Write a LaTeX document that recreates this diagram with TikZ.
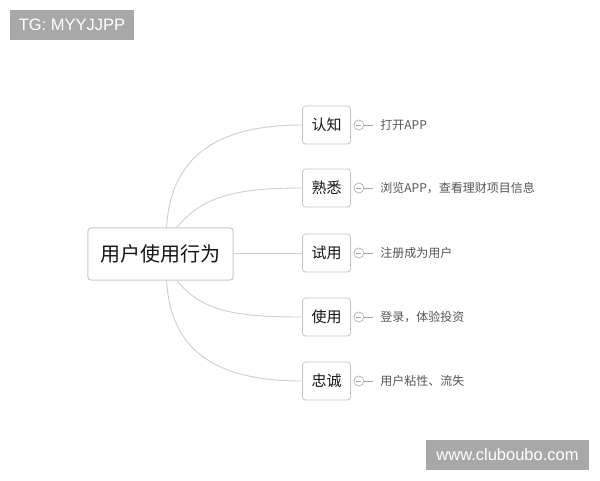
\documentclass[tikz,border=0pt]{standalone}
\usepackage{fontspec}
\setmainfont{Liberation Sans}
\newfontfamily\cjk{Noto Sans CJK SC}
\usetikzlibrary{calc}
\definecolor{wmgray}{HTML}{A8A8A8}
\definecolor{linegray}{HTML}{CFCFCF}
\definecolor{boxgray}{HTML}{C4C4C4}
\definecolor{leafgray}{HTML}{555555}
\definecolor{txtdark}{HTML}{151515}
\tikzset{
  wmark/.style={fill=wmgray, text=white, inner sep=0pt, font=\fontsize{16.5}{16.5}\selectfont},
  rootbox/.style={draw=boxgray, line width=0.8pt, rounded corners=3pt, fill=white, minimum width=145pt, minimum height=52pt, inner sep=0pt, text=txtdark, font=\cjk\fontsize{20}{20}\selectfont},
  stagebox/.style={draw=boxgray, line width=0.8pt, rounded corners=3pt, fill=white, minimum width=48pt, minimum height=38pt, inner sep=0pt, text=txtdark, font=\cjk\fontsize{15}{15}\selectfont},
  fold/.style={circle, draw=linegray!80!black, line width=0.6pt, minimum size=10pt, inner sep=0pt, fill=white},
  leaf/.style={anchor=west, inner sep=0pt, text=leafgray, font=\cjk\fontsize{12}{12}\selectfont},
  link/.style={draw=linegray, line width=0.9pt},
}
\begin{document}
\begin{tikzpicture}[x=1pt,y=-1pt]
\useasboundingbox (0,0) rectangle (600,480);
\fill[white] (0,0) rectangle (600,480);

\node[wmark, minimum width=124pt, minimum height=30pt] (wm1) at (72,25) {TG: MYYJJPP};
\node[wmark, minimum width=163pt, minimum height=30pt] (wm2) at (507.5,455) {www.cluboubo.com};

\node[rootbox] (root) at (160.5,254) {用户使用行为};

\node[stagebox] (s1) at (326.5,125) {认知};
\node[stagebox] (s2) at (326.5,188) {熟悉};
\node[stagebox] (s3) at (326.5,253) {试用};
\node[stagebox] (s4) at (326.5,317) {使用};
\node[stagebox] (s5) at (326.5,381) {忠诚};

\coordinate (r1) at ([xshift=79pt]root.north west);
\coordinate (r2) at ([xshift=89pt]root.north west);
\coordinate (r4) at ([xshift=89pt]root.south west);
\coordinate (r5) at ([xshift=79pt]root.south west);

\draw[link] (r1) .. controls ($(r1)+(4,-75)$) and ($(s1.west)+(-80,0)$) .. (s1.west);
\draw[link] (r2) .. controls ($(r2)+(25,-30)$) and ($(s2.west)+(-70,0)$) .. (s2.west);
\draw[link] (root.east |- s3.west) -- (s3.west);
\draw[link] (r4) .. controls ($(r4)+(25,30)$) and ($(s4.west)+(-70,0)$) .. (s4.west);
\draw[link] (r5) .. controls ($(r5)+(4,75)$) and ($(s5.west)+(-80,0)$) .. (s5.west);
\node[rootbox] at (root) {用户使用行为};

\foreach \i/\t in {1/打开APP, 2/浏览APP，查看理财项目信息, 3/注册成为用户, 4/登录，体验投资, 5/用户粘性、流失}{
  \node[fold] (f\i) at ($(s\i.east)+(8,0)$) {};
  \draw[linegray!80!black, line width=0.6pt] ($(f\i.center)+(-2.5,0)$) -- ($(f\i.center)+(2.5,0)$);
  \coordinate (e\i) at ($(f\i.east)+(9,0)$);
  \draw[linegray!80!black, line width=0.6pt] (f\i.east) -- (e\i);
  \node[leaf] (l\i) at ($(e\i)+(7,0)$) {\t};
}
\end{tikzpicture}
\end{document}
